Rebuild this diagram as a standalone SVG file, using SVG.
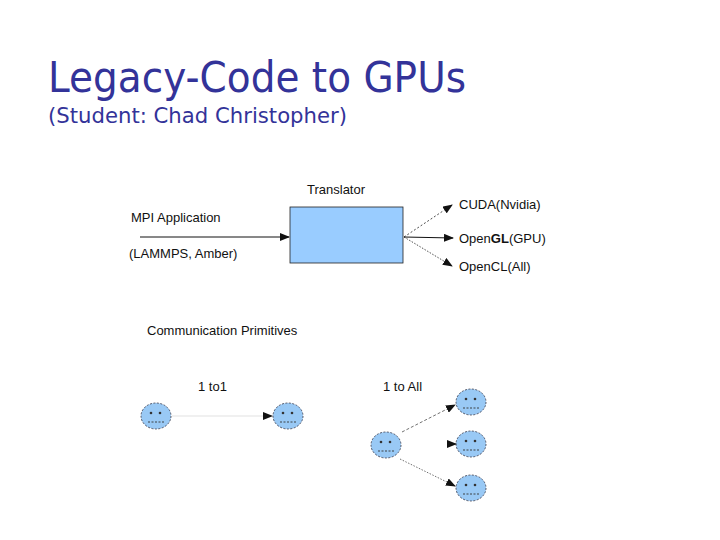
<svg xmlns="http://www.w3.org/2000/svg" width="720" height="540" viewBox="0 0 720 540">
<style>
.t{font-family:"Liberation Sans",Arial,sans-serif;font-size:13px;fill:#111}
.f{fill:#99c9f5;stroke:#334;stroke-width:0.8;stroke-dasharray:2 1.5}
.d{fill:none;stroke:#333;stroke-width:0.9}
.e{fill:#333}
</style>
<defs>
<marker id="a" markerWidth="10" markerHeight="8" refX="9" refY="4" orient="auto" markerUnits="userSpaceOnUse"><path d="M0,0 L10,4 L0,8 Z" fill="#111"/></marker>
<g id="face"><ellipse cx="0" cy="0" rx="15" ry="13" class="f"/><circle cx="-5" cy="-3" r="1.3" class="e"/><circle cx="4" cy="-3" r="1.3" class="e"/><path d="M-8,6 H8" class="d" stroke-dasharray="2 1.5"/></g>
</defs>
<rect width="720" height="540" fill="#fff"/>
<text x="48" y="92" font-family="DejaVu Sans,sans-serif" font-size="42" fill="#333399" textLength="418" lengthAdjust="spacingAndGlyphs">Legacy-Code to GPUs</text>
<text x="48" y="123" font-family="DejaVu Sans,sans-serif" font-size="21" fill="#333399" textLength="299" lengthAdjust="spacingAndGlyphs">(Student: Chad Christopher)</text>
<g id="translator"><rect x="290" y="207" width="113" height="56" fill="#99ccff" stroke="#222" stroke-width="0.8"/><text class="t" x="307" y="194">Translator</text></g>
<g id="mpi"><text class="t" x="131" y="222">MPI Application</text><text class="t" x="129" y="258">(LAMMPS, Amber)</text></g>
<g id="outs"><text class="t" x="459" y="209">CUDA(Nvidia)</text><text class="t" x="459" y="243">Open<tspan font-weight="bold">GL</tspan>(GPU)</text><text class="t" x="459" y="271">OpenCL(All)</text></g>
<g id="labels"><text class="t" x="147" y="335">Communication Primitives</text><text class="t" x="198" y="391">1 to1</text><text class="t" x="383" y="391">1 to All</text></g>
<g id="n1"><use href="#face" x="156" y="416"/></g>
<g id="n2"><use href="#face" x="288" y="416"/></g>
<g id="n3"><use href="#face" x="386" y="445"/></g>
<g id="n4"><use href="#face" x="471" y="402"/></g>
<g id="n5"><use href="#face" x="471" y="444"/></g>
<g id="n6"><use href="#face" x="471" y="488"/></g>
<g id="connectors">
<line x1="140" y1="237" x2="289" y2="237" stroke="#111" stroke-width="1" marker-end="url(#a)"/>
<line x1="404" y1="237" x2="452" y2="205" stroke="#222" stroke-width="0.8" stroke-dasharray="2 2" marker-end="url(#a)"/>
<line x1="404" y1="237" x2="453" y2="238" stroke="#111" stroke-width="1" marker-end="url(#a)"/>
<line x1="404" y1="237" x2="452" y2="266" stroke="#222" stroke-width="0.8" stroke-dasharray="1.5 1.5" marker-end="url(#a)"/>
<line x1="172" y1="416" x2="272" y2="416" stroke="#ccc" stroke-width="0.6" marker-end="url(#a)"/>
<line x1="402" y1="432" x2="455" y2="405" stroke="#333" stroke-width="0.7" stroke-dasharray="3 2" marker-end="url(#a)"/>
<line x1="447" y1="444" x2="456" y2="444" stroke="#333" stroke-width="0.7" marker-end="url(#a)"/>
<line x1="400" y1="459" x2="455" y2="486" stroke="#333" stroke-width="0.7" stroke-dasharray="1.5 1.5" marker-end="url(#a)"/>
</g>
</svg>
